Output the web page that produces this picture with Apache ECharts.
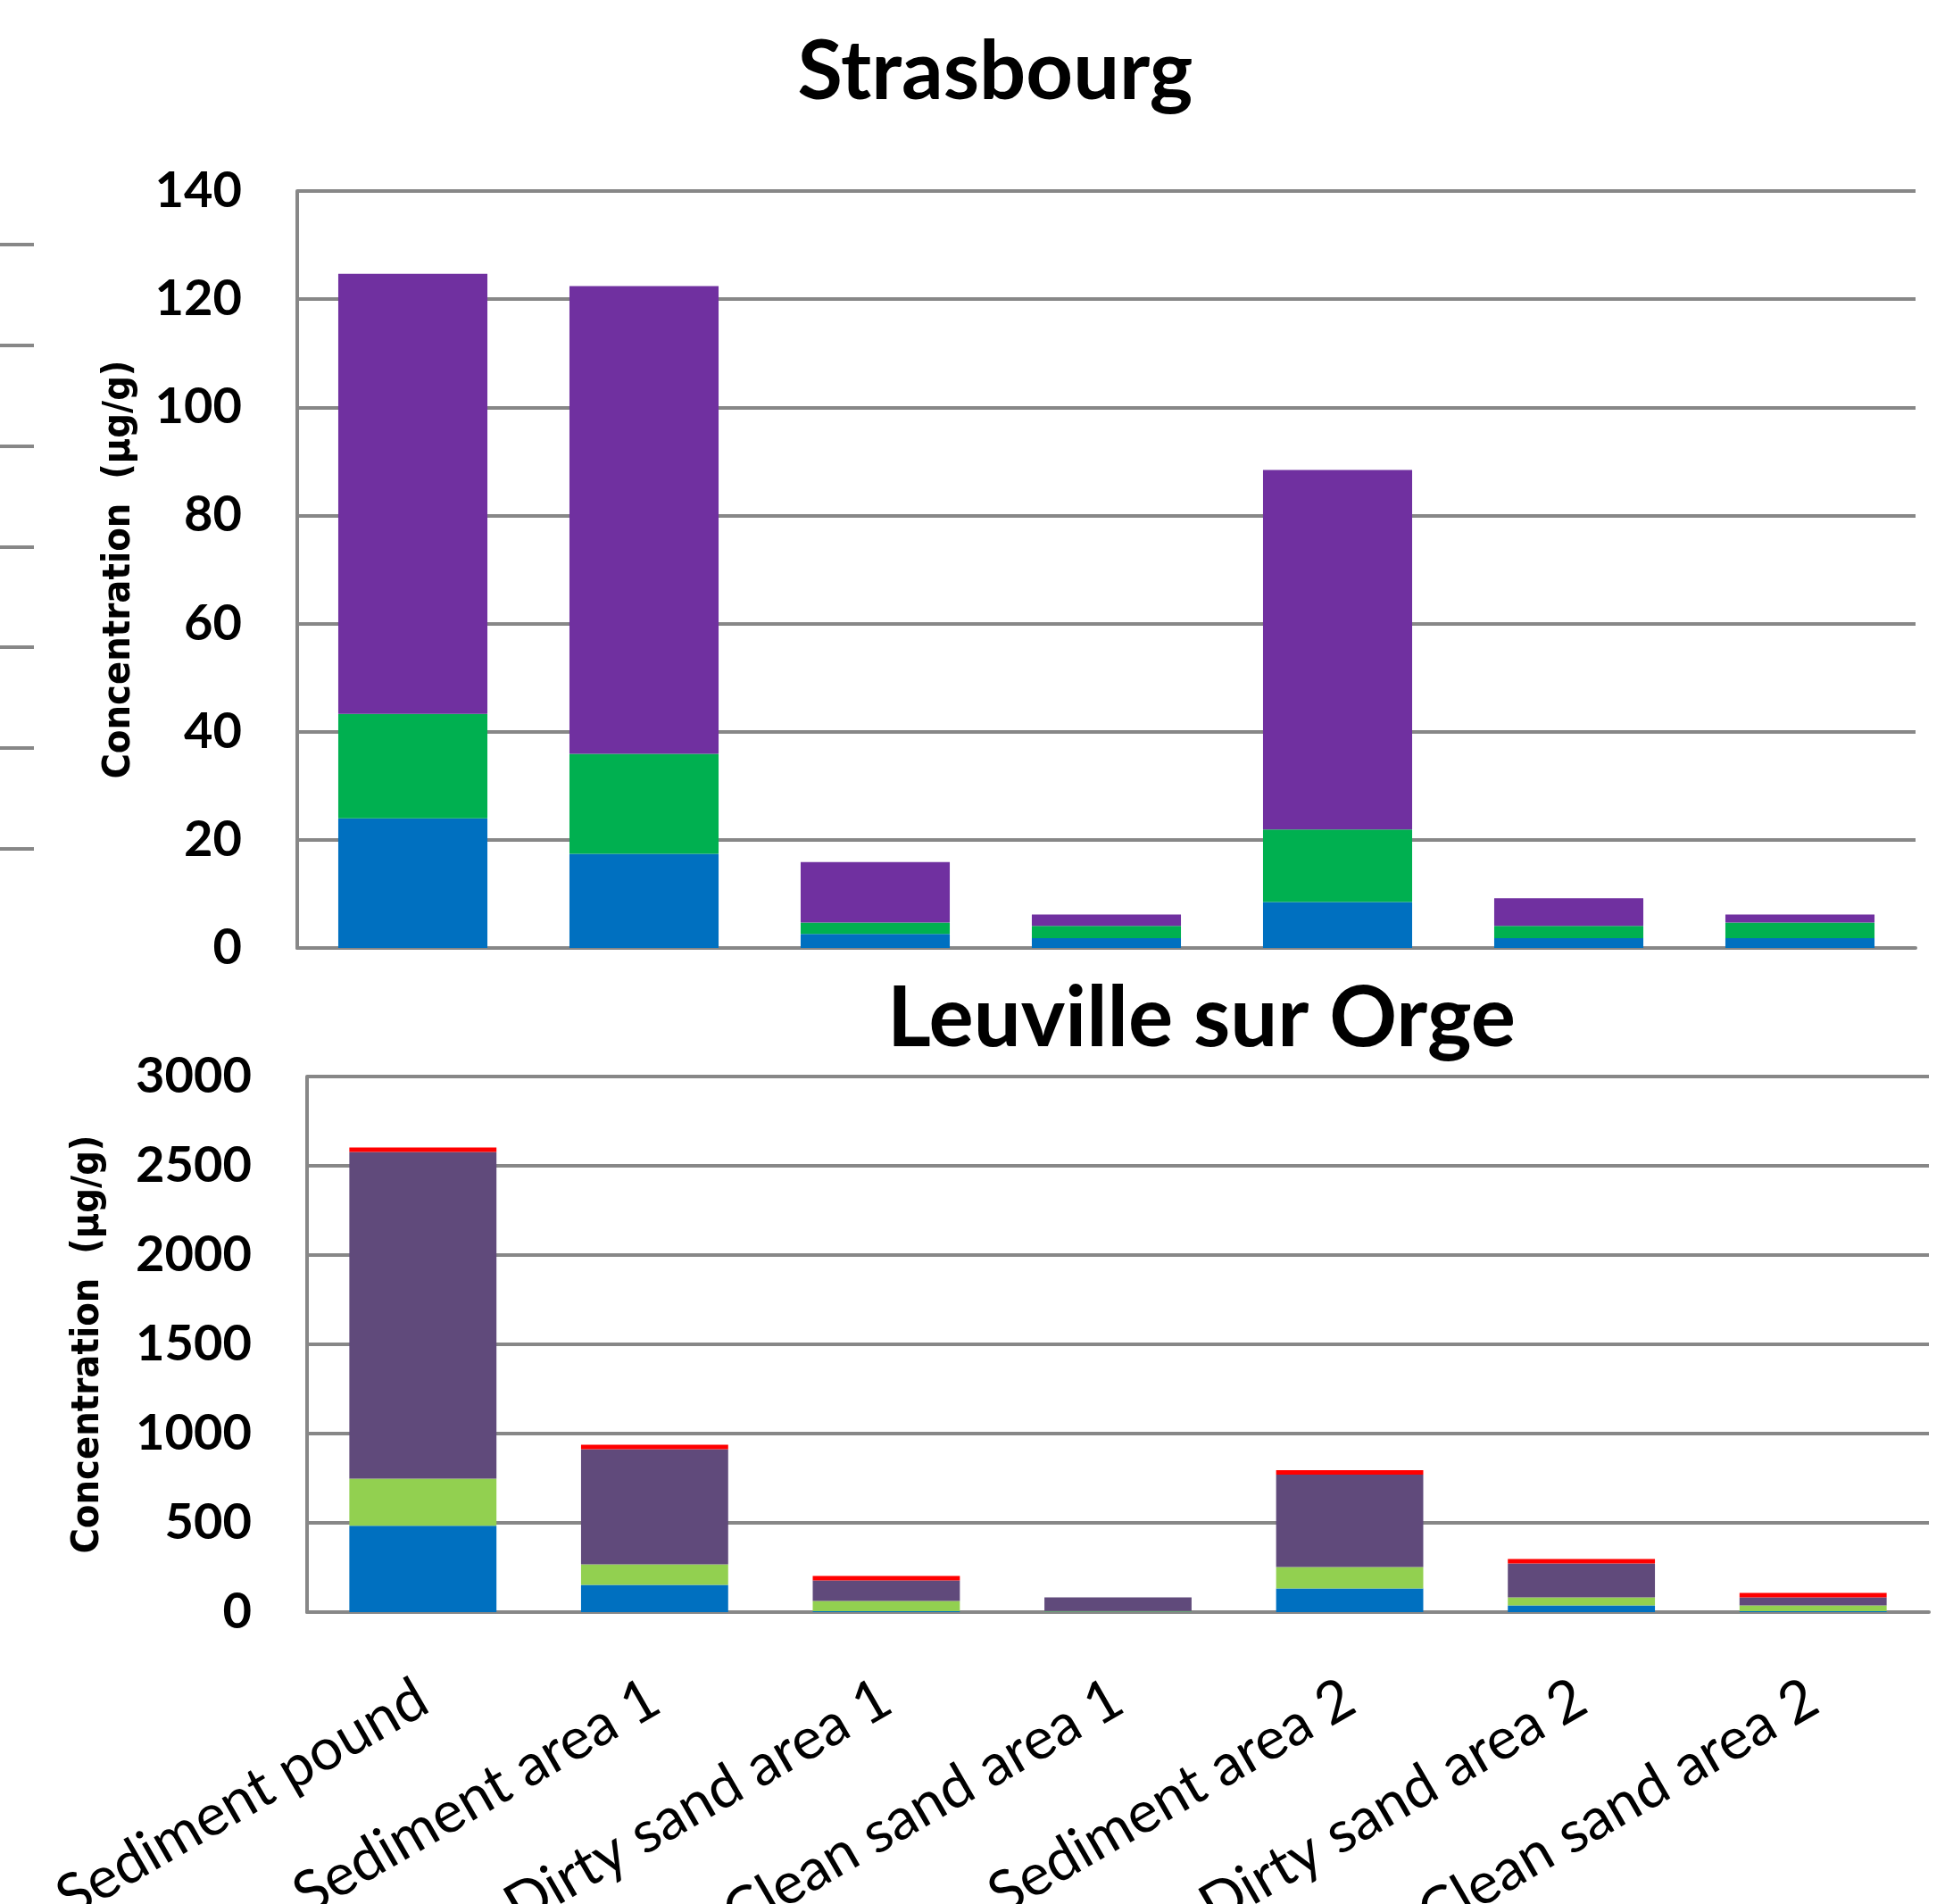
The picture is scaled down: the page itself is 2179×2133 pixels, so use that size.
<!DOCTYPE html>
<html>
<head>
<meta charset="utf-8">
<script src="https://cdn.jsdelivr.net/npm/echarts@6/dist/echarts.min.js"></script>
<style>
html,body{margin:0;padding:0;background:#fff;}
#chart{width:2179px;height:2133px;}
</style>
</head>
<body>
<div id="chart"></div>
<script>
// ---- Data ----
const categories = ["Sediment pound", "Sediment area 1", "Dirty sand area 1", "Clean sand area 1", "Sediment area 2", "Dirty sand area 2", "Clean sand area 2"];

// Strasbourg (µg/g)
const strasBlue   = [24.0, 17.4, 2.6, 1.8, 8.5, 1.8, 1.8];
const strasGreen  = [19.3, 18.5, 2.1, 2.3, 13.4, 2.3, 2.9];
const strasPurple = [81.4, 86.5, 11.2, 2.1, 66.5, 5.1, 1.5];

// Leuville sur Orge (µg/g)
const leuBlue   = [484, 153, 5, 3, 132, 37, 5];
const leuGreen  = [264, 115, 57, 3, 120, 45, 32];
const leuPurple = [1829, 645, 115, 76, 518, 190, 45];
const leuRed    = [25, 25, 25, 0, 25, 25, 25];

const strasTicks = {min: 0, max: 140, interval: 20};
const leuTicks = {min: 0, max: 3000, interval: 500};
const fragTicks = {min: 0, max: 6, interval: 1};

// ---- Styles ----
const gray = '#878787';
const tickFont = {fontFamily: 'Lato, "Open Sans", sans-serif', fontWeight: 'bold', fontSize: 56, color: '#000'};
const nameFont = {fontFamily: '"DejaVu Sans Condensed", Lato, sans-serif', fontWeight: 'bold', fontSize: 43, color: '#000'};

const chart = echarts.init(document.getElementById('chart'), null, {renderer: 'canvas'});

function valueAxis(gridIndex, ticks, nameGap, showLabels) {
  return {
    type: 'value', gridIndex: gridIndex,
    min: ticks.min, max: ticks.max, interval: ticks.interval,
    name: showLabels ? 'Concentration  (µg/g)' : '',
    nameLocation: 'middle', nameGap: nameGap, nameRotate: 90,
    nameTextStyle: nameFont,
    axisLine: {show: showLabels, lineStyle: {color: gray, width: 4}},
    axisTick: {show: false},
    axisLabel: Object.assign({show: showLabels, margin: 62, formatter: function (v) { return String(v); }}, tickFont),
    splitLine: {show: true, lineStyle: {color: gray, width: 4}}
  };
}

const option = {
  backgroundColor: '#fff',
  animation: false,
  title: [
    {text: 'Strasbourg', left: 1110, top: 30, textAlign: 'center',
     textStyle: {fontFamily: 'Lato, sans-serif', fontWeight: 'bold', fontSize: 92, color: '#000'}},
    {text: 'Leuville sur Orge', left: 1341, top: 1090, textAlign: 'center',
     textStyle: {fontFamily: 'Lato, sans-serif', fontWeight: 'bold', fontSize: 94, color: '#000'}}
  ],
  grid: [
    {left: 333, top: 214, width: 1813, height: 848, outerBoundsMode: 'none', containLabel: false},
    {left: 344, top: 1206, width: 1817, height: 600, outerBoundsMode: 'none', containLabel: false},
    {left: 0, top: 273.6, width: 38, height: 677.4, outerBoundsMode: 'none', containLabel: false}
  ],
  xAxis: [
    {type: 'category', gridIndex: 0, data: categories,
     axisLine: {show: true, lineStyle: {color: gray, width: 4}},
     axisTick: {show: false}, axisLabel: {show: false}},
    {type: 'category', gridIndex: 1, data: categories,
     axisLine: {show: true, lineStyle: {color: gray, width: 4}},
     axisTick: {show: false},
     axisLabel: {show: true, rotate: 30, margin: 92, interval: 0, hideOverlap: false,
       fontFamily: 'Lato, sans-serif', fontSize: 65, color: '#000'}},
    {type: 'category', gridIndex: 2, data: [''], show: false}
  ],
  yAxis: [
    valueAxis(0, strasTicks, 178, true),
    valueAxis(1, leuTicks, 224, true),
    valueAxis(2, fragTicks, 0, false)
  ],
  series: [
    {name: 'Strasbourg 1', type: 'bar', stack: 's', xAxisIndex: 0, yAxisIndex: 0, barWidth: '64.5%', data: strasBlue, itemStyle: {color: '#0070C0'}},
    {name: 'Strasbourg 2', type: 'bar', stack: 's', xAxisIndex: 0, yAxisIndex: 0, barWidth: '64.5%', data: strasGreen, itemStyle: {color: '#00B050'}},
    {name: 'Strasbourg 3', type: 'bar', stack: 's', xAxisIndex: 0, yAxisIndex: 0, barWidth: '64.5%', data: strasPurple, itemStyle: {color: '#7030A0'}},
    {name: 'Leuville 1', type: 'bar', stack: 'l', xAxisIndex: 1, yAxisIndex: 1, barWidth: '63.5%', data: leuBlue, itemStyle: {color: '#0070C0'}},
    {name: 'Leuville 2', type: 'bar', stack: 'l', xAxisIndex: 1, yAxisIndex: 1, barWidth: '63.5%', data: leuGreen, itemStyle: {color: '#92D050'}},
    {name: 'Leuville 3', type: 'bar', stack: 'l', xAxisIndex: 1, yAxisIndex: 1, barWidth: '63.5%', data: leuPurple, itemStyle: {color: '#604A7B'}},
    {name: 'Leuville 4', type: 'bar', stack: 'l', xAxisIndex: 1, yAxisIndex: 1, barWidth: '63.5%', data: leuRed, itemStyle: {color: '#FF0000'}}
  ]
};
chart.setOption(option);
</script>
</body>
</html>
